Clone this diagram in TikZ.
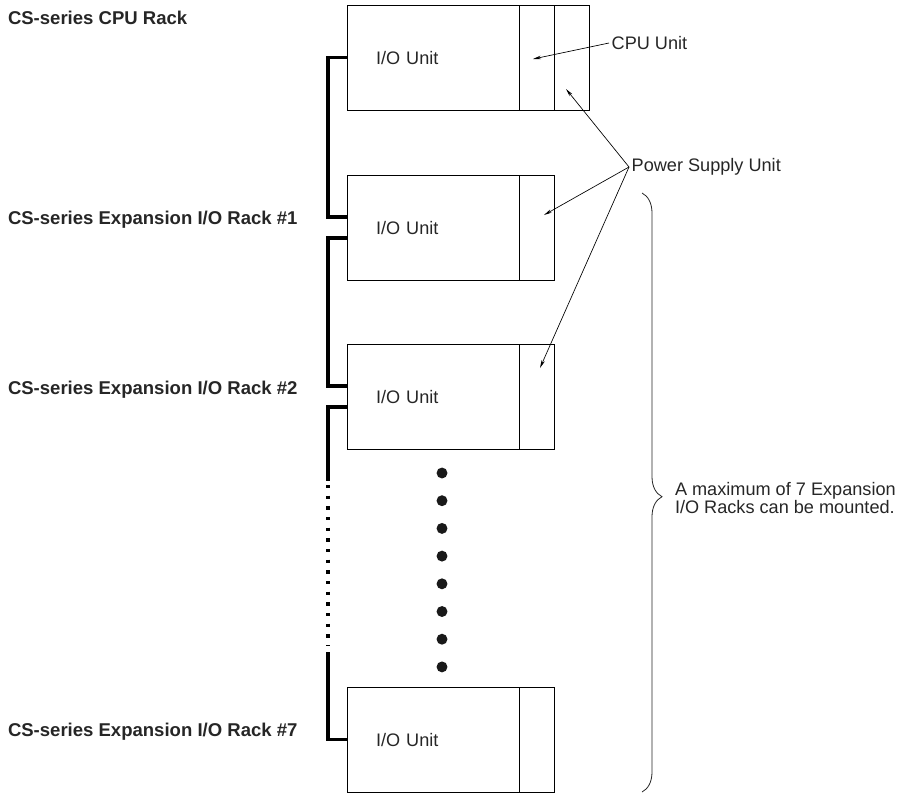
\documentclass[tikz,border=0pt]{standalone}
\usepackage{fontspec}
\setmainfont{Liberation Sans}
\usepackage{tikz}
\usetikzlibrary{arrows.meta,positioning,calc,decorations.pathreplacing}

\begin{document}
\begin{tikzpicture}
	[
	 x = 0.75pt,
	 y = -0.75pt,
	 every node/.style = {font=\fontsize{13.6}{13}\selectfont,
	                      text = black!85,
	                      inner sep = 0pt,
	                      outer sep = 0pt
	                     },
	 IO/.style = {shape=rectangle,
	              draw,
	              line width = 0.6pt,
	              anchor = north west,
	              minimum width = 129pt,
	              minimum height = 79pt,
	              text width = 85.5pt,
	              align = left,
	              inner xsep = 21.75pt},
	 SL/.style = {shape=rectangle,
	              draw,
	              line width = 0.6pt,
	              minimum width = 26.5pt,
	              minimum height = 79pt},
	 RK/.style = {anchor=west, font=\bfseries\fontsize{13.9}{13}\selectfont},
	 LB/.style = {anchor=west, inner sep=2pt},
	 CB/.style = {line width=2.6pt},
	 PT/.style = {-{Stealth[length=6pt,width=2.6pt]}, line width=0.5pt}
	]

	\useasboundingbox (0,0) rectangle (906,793);

	\newcommand{\IOU}{I/O Unit}
	\newcommand{\CSX}{CS-series Expansion I/O Rack}

	\node [IO] (R0) at (347,5)   {\IOU};
	\node [SL, right=0pt of R0]  (R0c) {};
	\node [SL, right=0pt of R0c] (R0p) {};
	\node [IO] (R1) at (347,175) {\IOU};
	\node [SL, right=0pt of R1]  (R1p) {};
	\node [IO] (R2) at (347,344) {\IOU};
	\node [SL, right=0pt of R2]  (R2p) {};
	\node [IO] (R7) at (347,687) {\IOU};
	\node [SL, right=0pt of R7]  (R7p) {};

	\node [RK] (L0) at (8,18)  {CS-series CPU Rack};
	\node [RK] (L1) at (8,220) {\CSX{} \#1};
	\node [RK] (L2) at (8,390) {\CSX{} \#2};
	\node [RK] (L7) at (8,732) {\CSX{} \#7};

	\coordinate (R1in)  at ($(R1.west)+(0,-10.5)$);
	\coordinate (R1out) at ($(R1.west)+(0,10.5)$);
	\coordinate (R2in)  at ($(R2.west)+(0,-10.5)$);
	\coordinate (R2out) at ($(R2.west)+(0,10.5)$);
	\coordinate (Ca) at (328,481);
	\coordinate (Cb) at (328,485);
	\coordinate (Cc) at (328,646);
	\coordinate (Cd) at (328,652);

	\draw [CB] (R0.west) -- ++(-19,0) |- (R1in);
	\draw [CB] (R1out) -- ++(-19,0) |- (R2in);
	\draw [CB] (R2out) -- ++(-19,0) -- (Ca);
	\draw [CB, dash pattern=on 2.5pt off 5.5pt] (Cb) -- (Cc);
	\draw [CB] (Cd) |- (R7.west);

	\foreach \k in {0,...,7}
		\fill [black!90] (442,473+27.7*\k) circle [radius=4.1pt];

	\node [LB] (CPUl) at (609,43)  {CPU Unit};
	\node [LB] (PSUl) at (629,167) {Power Supply Unit};

	\coordinate (T0c) at (533,59);
	\coordinate (T0p) at (566,89);
	\coordinate (T1p) at (544,215);
	\coordinate (T2p) at (540,368);

	\draw [PT] (CPUl.west) -- (T0c);
	\draw [PT] (PSUl.west) -- (T0p);
	\draw [PT] (PSUl.west) -- (T1p);
	\draw [PT] (PSUl.west) -- (T2p);

	\draw [decorate, decoration={brace, amplitude=15pt, aspect=0.507},
	       line width=0.6pt, black!85] (642,193) -- (642,792);

	\node [anchor=west, align=left] (MAX) at (675,498)
		{A maximum of 7 Expansion\\I/O Racks can be mounted.};
\end{tikzpicture}
\end{document}
